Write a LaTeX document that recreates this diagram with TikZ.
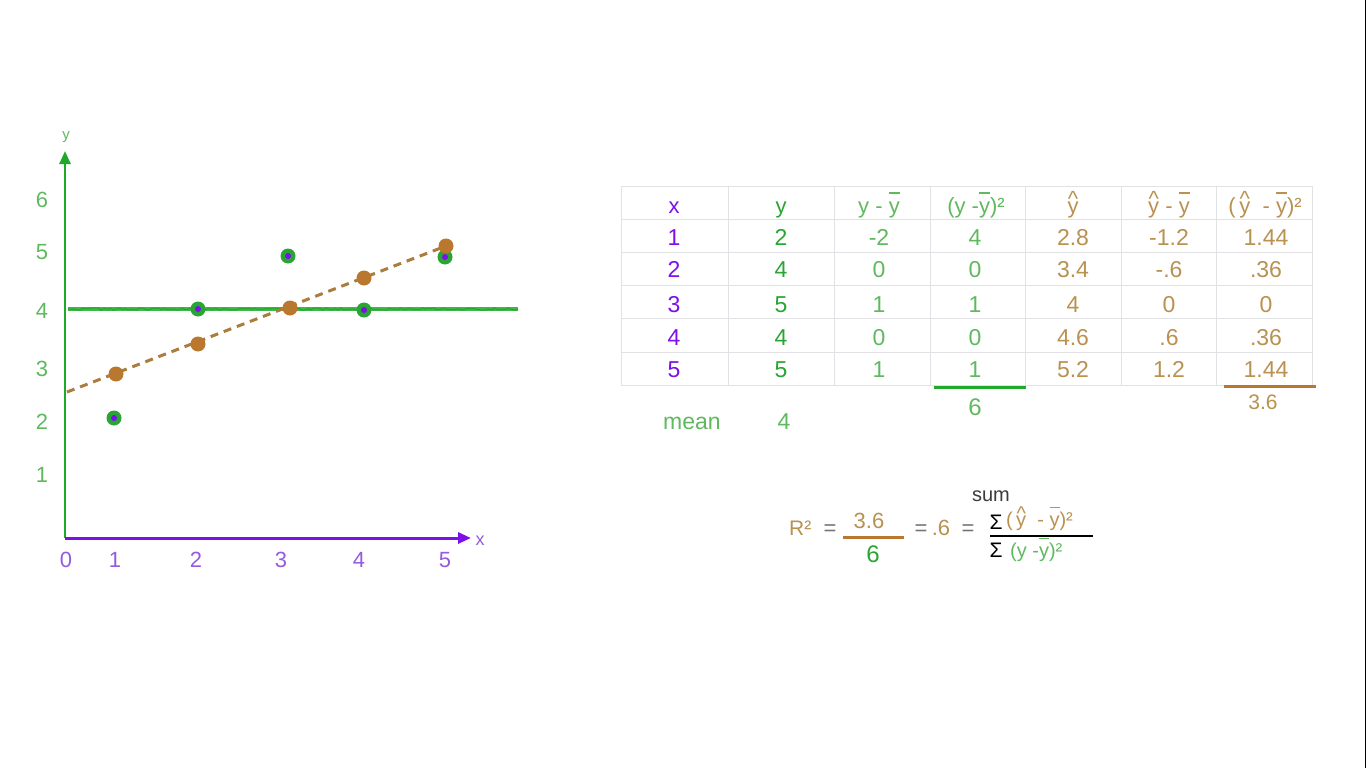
\documentclass[tikz,border=0pt]{standalone}
\usepackage{fontspec}
\setmainfont{Liberation Sans}
\usetikzlibrary{arrows.meta,decorations.pathmorphing}
\definecolor{axgreen}{RGB}{30,170,40}
\definecolor{ygreen}{RGB}{40,165,50}
\definecolor{ltgreen}{RGB}{95,185,95}
\definecolor{xpurple}{RGB}{125,15,235}
\definecolor{ltpurple}{RGB}{150,90,225}
\definecolor{brtext}{RGB}{185,145,80}
\definecolor{dotbrown}{RGB}{185,120,45}
\definecolor{fitbrown}{RGB}{170,125,60}
\definecolor{gridgray}{RGB}{226,226,230}
\definecolor{sumgray}{RGB}{60,60,60}
\definecolor{eqgray}{RGB}{115,115,115}
\newcommand{\ybar}{\makebox[0pt][l]{\rule[0.88em]{0.5em}{0.08em}}y}
\newcommand{\yhat}{\makebox[0pt][l]{\raisebox{0.3em}{\makebox[0.5em]{\textasciicircum}}}y}
\newcommand{\fsz}[1]{\fontsize{#1}{#1}\selectfont}

\begin{document}
\begin{tikzpicture}[x=1pt,y=-1pt]
  \tikzset{every node/.style={inner sep=0pt,font=\fsz{22}},
           ticklab/.style={anchor=base},
           cell/.style={anchor=base,font=\fsz{23}},
           head/.style={anchor=base,font=\fsz{22}},
           dpoint/.style={circle,fill=ygreen,minimum size=15pt,
             path picture={\fill[xpurple] (path picture bounding box.center) circle (3pt);}},
           fpoint/.style={circle,fill=dotbrown,minimum size=15pt},
           gridline/.style={draw=gridgray,line width=0.8pt}}
  \useasboundingbox[fill=white] (0,0) rectangle (1366,768);
  % axes
  \coordinate (O) at (65,538);
  \coordinate (ytip) at (65,151);
  \coordinate (xtip) at (471,538);
  \draw[axgreen,line width=2.5pt,-{Triangle[length=13pt,width=11pt]}] (O) -- (ytip);
  \draw[xpurple,line width=3pt,-{Triangle[length=13pt,width=11pt]}] (O) -- (xtip);
  \node[ltgreen,font=\fsz{15}] (ylab) at (66,137) {y};
  \node[ltpurple,font=\fsz{18}] (xlab) at (480,541) {x};
  \node[ticklab,ltgreen] (yt6) at (42,207) {6};
  \node[ticklab,ltgreen] (yt5) at (42,259) {5};
  \node[ticklab,ltgreen] (yt4) at (42,318) {4};
  \node[ticklab,ltgreen] (yt3) at (42,376) {3};
  \node[ticklab,ltgreen] (yt2) at (42,429) {2};
  \node[ticklab,ltgreen] (yt1) at (42,482) {1};
  \node[ticklab,ltpurple] (xt0) at (66,567) {0};
  \node[ticklab,ltpurple] (xt1) at (115,567) {1};
  \node[ticklab,ltpurple] (xt2) at (196,567) {2};
  \node[ticklab,ltpurple] (xt3) at (281,567) {3};
  \node[ticklab,ltpurple] (xt4) at (359,567) {4};
  \node[ticklab,ltpurple] (xt5) at (445,567) {5};
  % mean line
  \coordinate (mstart) at (68,309);
  \coordinate (mend) at (518,309);
  \draw[axgreen!85!white,line width=4.5pt] (mstart) -- (mend);
  \draw[axgreen,line width=1pt,decorate,
        decoration={random steps,segment length=3pt,amplitude=1.2pt}] (mstart) -- (mend);
  % data
  \node[dpoint] (d1) at (114,418) {};
  \node[dpoint] (d2) at (198,309) {};
  \node[dpoint] (d3) at (288,256) {};
  \node[dpoint] (d4) at (364,310) {};
  \node[dpoint] (d5) at (445,257) {};
  % fitted line
  \coordinate (fstart) at (67,392);
  \coordinate (fend) at (446,246);
  \draw[fitbrown,line width=3pt,dash pattern=on 8pt off 6pt] (fstart) -- (fend);
  \node[fpoint] (f1) at (116,374) {};
  \node[fpoint] (f2) at (198,344) {};
  \node[fpoint] (f3) at (290,308) {};
  \node[fpoint] (f4) at (364,278) {};
  \node[fpoint] (f5) at (446,246) {};
  % table
  \foreach \yy in {186,219,252,285,318,352,385}
    \draw[gridline] (621,\yy) -- (1312,\yy);
  \foreach \xx in {621,728,834,930,1025,1121,1216,1312}
    \draw[gridline] (\xx,186) -- (\xx,385);
  \node[head,xpurple] (hx) at (674,213) {x};
  \node[head,ygreen] (hy) at (781,213) {y};
  \node[head,ltgreen] (hdev) at (879,213) {y - \ybar};
  \node[head,ltgreen] (hdevsq) at (976,213) {(y -\ybar)²};
  \node[head,brtext] (hfit) at (1073,213) {\yhat};
  \node[head,brtext] (hfdev) at (1169,213) {\yhat\ - \ybar};
  \node[head,brtext] (hfdevsq) at (1265,213) {(\,\yhat\ \ - \ybar)²};
  \foreach \r/\yy/\a/\b/\c/\d/\e/\f/\g in {1/245/1/2/-2/4/2.8/-1.2/1.44,
      2/277/2/4/0/0/3.4/-.6/.36, 3/312/3/5/1/1/4/0/0,
      4/345/4/4/0/0/4.6/.6/.36, 5/377/5/5/1/1/5.2/1.2/1.44}{
    \node[cell,xpurple] (x\r) at (674,\yy) {\a};
    \node[cell,ygreen] (y\r) at (781,\yy) {\b};
    \node[cell,ltgreen] (dev\r) at (879,\yy) {\c};
    \node[cell,ltgreen] (devsq\r) at (975,\yy) {\d};
    \node[cell,brtext] (fit\r) at (1073,\yy) {\e};
    \node[cell,brtext] (fdev\r) at (1169,\yy) {\f};
    \node[cell,brtext] (fdevsq\r) at (1266,\yy) {\g};
  }
  % sums
  \coordinate (gs1) at (934,387);
  \coordinate (gs2) at (1026,387);
  \draw[axgreen,line width=3pt] (gs1) -- (gs2);
  \node[cell,ltgreen,font=\fsz{24}] (ssy) at (975,415) {6};
  \coordinate (bs1) at (1224,386);
  \coordinate (bs2) at (1316,386);
  \draw[dotbrown,line width=3pt] (bs1) -- (bs2);
  \node[cell,brtext,font=\fsz{21}] (ssfit) at (1263,409) {3.6};
  \node[anchor=base,ltgreen,font=\fsz{23}] (meanlab) at (692,429) {mean};
  \node[anchor=base,ltgreen,font=\fsz{23}] (meanval) at (784,429) {4};
  % R squared
  \node[anchor=base west,brtext,font=\fsz{21}] (rsq) at (789,535) {R²};
  \node[anchor=base,eqgray] (eqa) at (830,535) {=};
  \coordinate (fr1) at (843,537);
  \coordinate (fr2) at (904,537);
  \draw[dotbrown,line width=3pt] (fr1) -- (fr2);
  \node[anchor=base,brtext] (num) at (869,528) {3.6};
  \node[anchor=base,ygreen,font=\fsz{24}] (den) at (873,562) {6};
  \node[anchor=base,eqgray] (eqb) at (921,535) {=};
  \node[anchor=base,brtext] (rval) at (941,535) {.6};
  \node[anchor=base,eqgray] (eqc) at (968,535) {=};
  \node[anchor=base,sumgray,font=\fsz{20}] (sumlab) at (991,501) {sum};
  \node[anchor=base,black,font=\fsz{21}] (sigtop) at (996,529) {Σ};
  \node[anchor=base west,brtext,font=\fsz{20}] (numr) at (1006,526) {(\,\yhat\ \ - \ybar)²};
  \coordinate (br1) at (990,536);
  \coordinate (br2) at (1093,536);
  \draw[black,line width=2.5pt] (br1) -- (br2);
  \node[anchor=base,black,font=\fsz{21}] (sigbot) at (996,557) {Σ};
  \node[anchor=base west,ltgreen,font=\fsz{20}] (denr) at (1010,557) {(y -\ybar)²};
  % right edge
  \coordinate (e1) at (1365.2,0);
  \coordinate (e2) at (1365.2,768);
  \draw[black,line width=1.2pt] (e1) -- (e2);
\end{tikzpicture}
\end{document}
